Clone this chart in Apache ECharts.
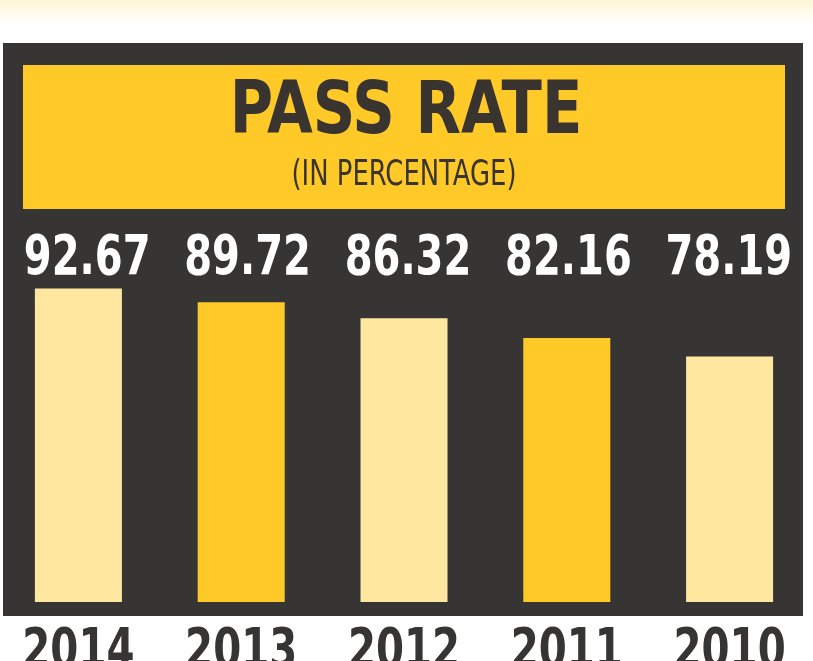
<!DOCTYPE html>
<html>
<head>
<meta charset="utf-8">
<script src="https://cdn.jsdelivr.net/npm/echarts@6/dist/echarts.min.js"></script>
<style>
html,body{margin:0;padding:0;background:#ffffff;}
#chart{width:813px;height:661px;}
</style>
</head>
<body>
<div id="chart"></div>
<script>
const years = ['2014', '2013', '2012', '2011', '2010'];
const passRates = [92.67, 89.72, 86.32, 82.16, 78.19];
const barColors = ['#FFE79F', '#FFCA28', '#FFE79F', '#FFCA28', '#FFE79F'];
const titleText = 'PASS RATE';
const subtitleText = '(IN PERCENTAGE)';

const FONT = '"DejaVu Sans Condensed", "Liberation Sans Narrow", sans-serif';
const Y_MIN = 26, Y_MAX = 100;
const chart = echarts.init(document.getElementById('chart'), null, {renderer: 'canvas'});

function labelSeries(texts, color, anchorValue, dy, scaleX, axisIndex) {
  return {
    type: 'custom',
    silent: true,
    z: 10,
    clip: false,
    xAxisIndex: axisIndex,
    yAxisIndex: axisIndex,
    data: texts.map((t, i) => [i, t]),
    renderItem: function (params, api) {
      const p = api.coord([api.value(0), anchorValue]);
      return {
        type: 'text',
        x: p[0],
        y: p[1] + dy,
        scaleX: scaleX,
        style: {
          text: texts[params.dataIndex],
          fontFamily: FONT, fontWeight: 'bold', fontSize: 56,
          fill: color, align: 'center', verticalAlign: 'middle'
        }
      };
    }
  };
}

chart.setOption({
  backgroundColor: '#ffffff',
  animation: false,
  graphic: [
    {type: 'rect', z: -10, shape: {x: 0, y: 0, width: 813, height: 26},
     style: {fill: new echarts.graphic.LinearGradient(0, 0, 0, 1, [
       {offset: 0, color: '#FFF6D6'}, {offset: 0.5, color: '#FFFBEC'}, {offset: 1, color: '#FFFFFF'}])}},
    {type: 'rect', z: -9, shape: {x: 3, y: 43, width: 800, height: 573}, style: {fill: '#373434'}},
    {type: 'rect', z: -8, shape: {x: 23, y: 65, width: 762, height: 144}, style: {fill: '#FFCA28'}},
    {type: 'text', z: 5, x: 406, y: 114, scaleX: 0.9,
     style: {text: titleText, fontFamily: FONT, fontWeight: 'bold', fontSize: 73,
             fill: '#3A3430', align: 'center', verticalAlign: 'middle'}},
    {type: 'text', z: 5, x: 404, y: 176, scaleX: 0.8,
     style: {text: subtitleText, fontFamily: FONT, fontWeight: 'normal', fontSize: 36,
             fill: '#3A3430', align: 'center', verticalAlign: 'middle'}}
  ],
  grid: [
    {left: -3, width: 814, top: 254, height: 348, containLabel: false, outerBoundsMode: 'none'},
    {left: 7, width: 802, top: 254, height: 348, containLabel: false, outerBoundsMode: 'none'}
  ],
  xAxis: [
    {type: 'category', data: years, gridIndex: 0,
     axisLine: {show: false}, axisTick: {show: false}, axisLabel: {show: false}},
    {type: 'category', data: years, gridIndex: 1,
     axisLine: {show: false}, axisTick: {show: false}, axisLabel: {show: false}}
  ],
  yAxis: [
    {type: 'value', min: Y_MIN, max: Y_MAX, show: false, gridIndex: 0, splitLine: {show: false}},
    {type: 'value', min: Y_MIN, max: Y_MAX, show: false, gridIndex: 1, splitLine: {show: false}}
  ],
  series: [
    {
      type: 'bar',
      xAxisIndex: 0, yAxisIndex: 0,
      data: passRates.map((v, i) => ({value: v, itemStyle: {color: barColors[i]}})),
      barWidth: 87
    },
    labelSeries(passRates.map(v => v.toFixed(2)), '#FFFFFF', Y_MAX, 5.5, 0.795, 1),
    labelSeries(years, '#373434', Y_MIN, 50.5, 0.8, 0)
  ]
});
</script>
</body>
</html>
